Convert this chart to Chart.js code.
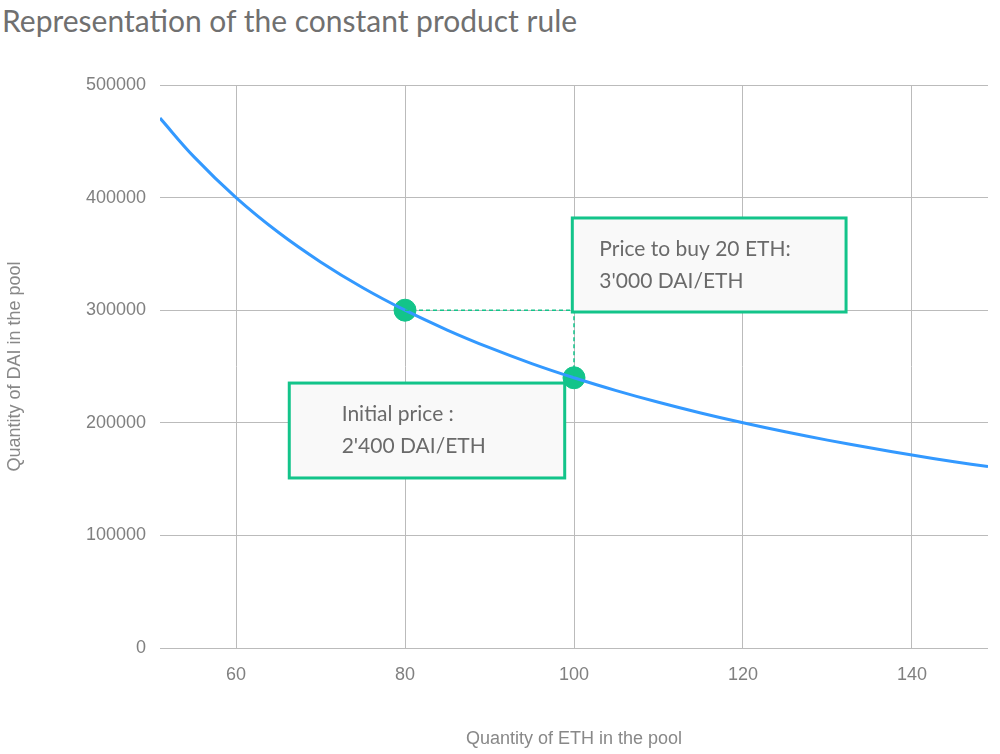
<!DOCTYPE html>
<html>
<head>
<meta charset="utf-8">
<script src="https://cdn.jsdelivr.net/npm/chart.js@4"></script>
<style>
  body { margin: 0; background: #fff; font-family: Lato, "Open Sans", sans-serif; }
  #title { position: absolute; left: 2px; top: 2px; font-size: 30px; color: #707070; }
  #chart { position: absolute; left: 0; top: 60px; }
</style>
</head>
<body>
<div id="title">Representation of the constant product rule</div>
<canvas id="chart" width="1000" height="694"></canvas>
<script>
// curve points
var ethValues = [51, 55, 60, 65, 70, 75, 80, 85, 90, 95, 100, 105, 110, 115, 120, 125, 130, 135, 140, 145, 149];
var daiValues = [470600, 436400, 400000, 369200, 342900, 320000, 300000, 282400, 266700, 252600, 240000,
  228600, 218200, 208700, 200000, 192000, 184600, 177800, 171400, 165500, 161100];
var markerPoints = [{ x: 80, y: 300000 }, { x: 100, y: 240000 }];
var boxes = [
  { x0: 66.3, x1: 98.9, y0: 235300, y1: 151000, lines: ['Initial price :', "2'400 DAI/ETH"], tx: 72.5 },
  { x0: 99.8, x1: 132.2, y0: 381900, y1: 298400, lines: ['Price to buy 20 ETH:', "3'000 DAI/ETH"], tx: 103 }
];

var green = '#13c48a';
var curve = ethValues.map((x, i) => ({ x: x, y: daiValues[i] }));

var annotations = {
  id: 'annotations',
  afterDatasetsDraw(chart) {
    var ctx = chart.ctx, xs = chart.scales.x, ys = chart.scales.y;
    ctx.save();
    // dashed guides
    ctx.strokeStyle = green;
    ctx.lineWidth = 1.5;
    ctx.setLineDash([4, 3]);
    ctx.beginPath();
    ctx.moveTo(xs.getPixelForValue(80), ys.getPixelForValue(300000));
    ctx.lineTo(xs.getPixelForValue(100), ys.getPixelForValue(300000));
    ctx.lineTo(xs.getPixelForValue(100), ys.getPixelForValue(240000));
    ctx.stroke();
    ctx.setLineDash([]);
    for (const b of boxes) {
      var l = xs.getPixelForValue(b.x0), r = xs.getPixelForValue(b.x1);
      var t = ys.getPixelForValue(b.y0), btm = ys.getPixelForValue(b.y1);
      ctx.fillStyle = '#f9f9f9';
      ctx.fillRect(l, t, r - l, btm - t);
      ctx.lineWidth = 3;
      ctx.strokeStyle = green;
      ctx.strokeRect(l, t, r - l, btm - t);
      ctx.fillStyle = '#6a6a6a';
      ctx.font = '21px Lato, "Open Sans", sans-serif';
      ctx.textBaseline = 'middle';
      var tx = xs.getPixelForValue(b.tx), mid = (t + btm) / 2;
      ctx.fillText(b.lines[0], tx, mid - 16);
      ctx.fillText(b.lines[1], tx, mid + 16);
    }
    ctx.restore();
  }
};

new Chart(document.getElementById('chart'), {
  type: 'scatter',
  data: {
    datasets: [
      { data: curve, showLine: true, borderColor: '#3399ff', borderWidth: 3, pointRadius: 0, tension: 0.4 },
      { data: markerPoints, pointRadius: 11, pointBackgroundColor: green, pointBorderColor: green, showLine: false }
    ]
  },
  options: {
    responsive: false,
    animation: false,
    layout: { padding: { top: 25, right: 0, bottom: 0, left: 0 } },
    plugins: { legend: { display: false }, tooltip: { enabled: false } },
    scales: {
      x: {
        type: 'linear', min: 51, max: 149,
        afterBuildTicks: s => { s.ticks = [60, 80, 100, 120, 140].map(v => ({ value: v })); },
        afterFit: s => { s.height = 106; },
        grid: { color: '#bbbbbb', drawTicks: false },
        border: { display: false },
        ticks: { color: '#808080', font: { size: 18 }, padding: 16 },
        title: { display: true, text: 'Quantity of ETH in the pool', color: '#888', font: { size: 18 }, padding: { top: 40 } }
      },
      y: {
        min: 0, max: 500000,
        afterFit: s => { s.width = 160; },
        ticks: { stepSize: 100000, color: '#808080', font: { size: 18 }, padding: 14, callback: v => String(v) },
        grid: { color: '#bbbbbb', drawTicks: false },
        border: { display: false },
        title: { display: true, text: 'Quantity of DAI in the pool', color: '#888', font: { size: 18 }, padding: { bottom: 8 } }
      }
    }
  },
  plugins: [annotations]
});
</script>
</body>
</html>
